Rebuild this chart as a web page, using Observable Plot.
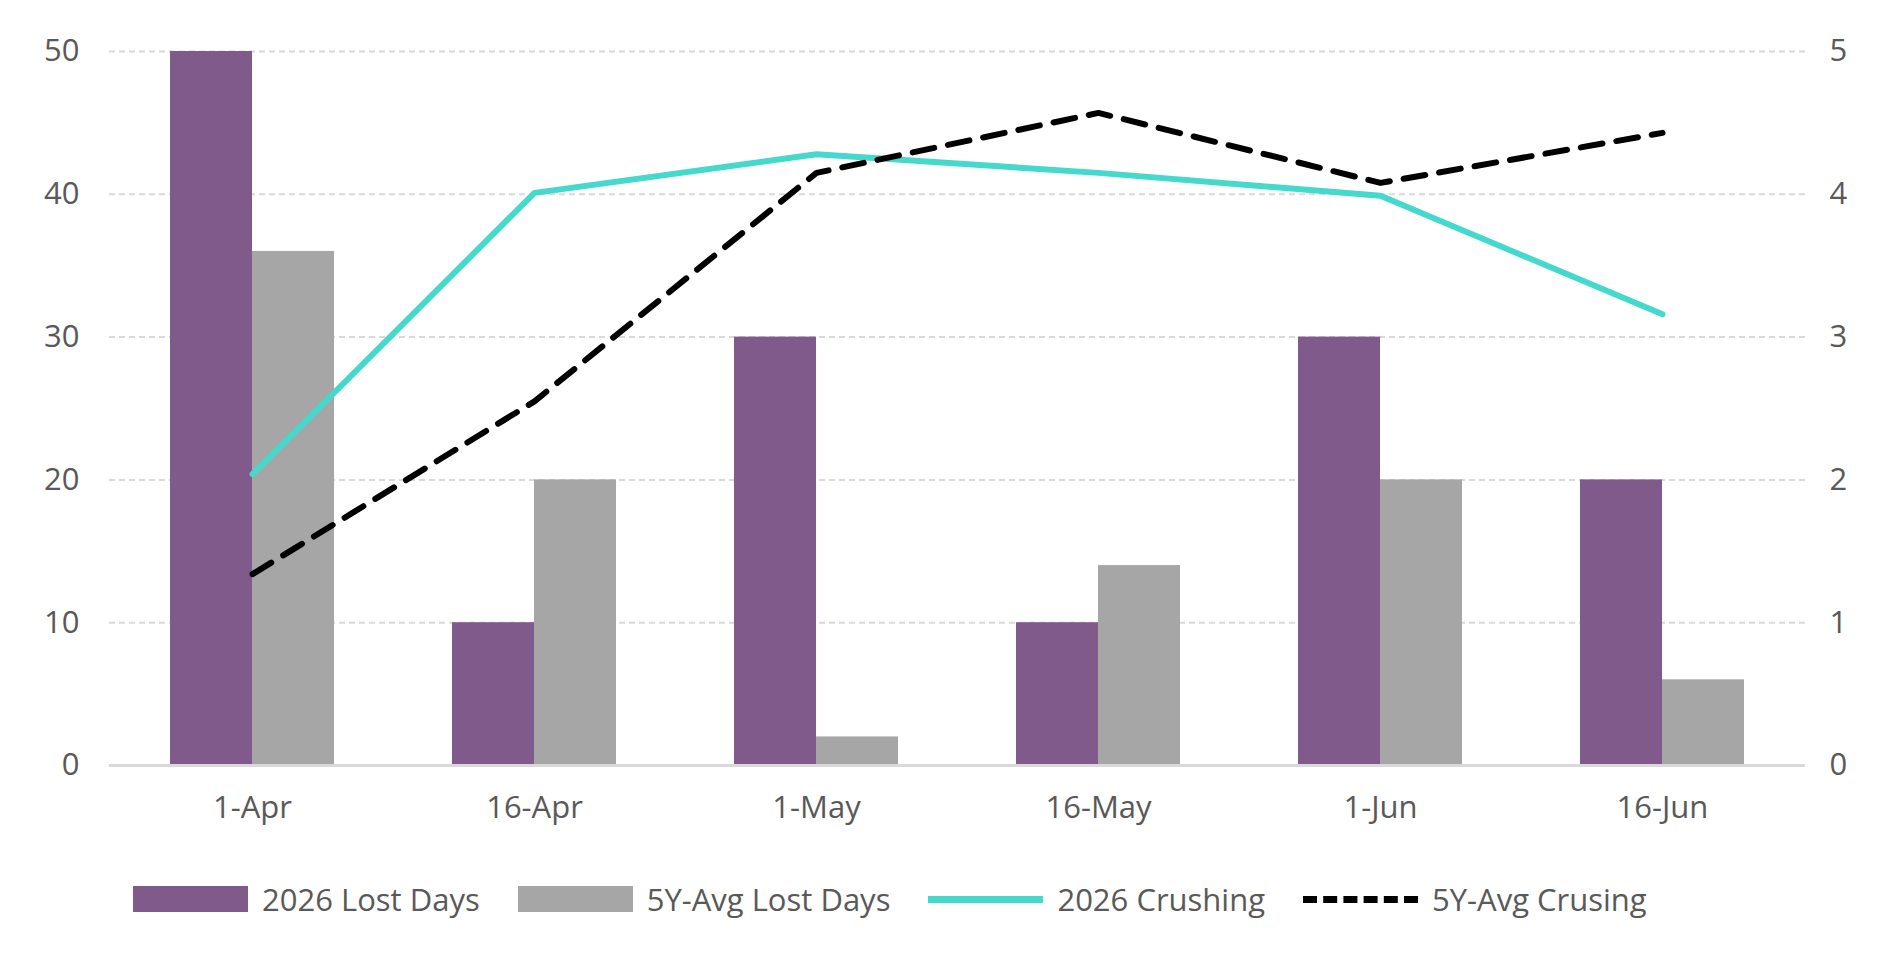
<!DOCTYPE html>
<html><head><meta charset="utf-8">
<script src="https://cdn.jsdelivr.net/npm/d3@7"></script>
<script src="https://cdn.jsdelivr.net/npm/@observablehq/plot@0.6"></script>
<style>
body{margin:0;background:#fff;font-family:"Open Sans",sans-serif;}
#legend{display:flex;align-items:center;margin-left:133px;margin-top:18px;font-size:31px;color:#595959;}
.it{display:flex;align-items:center;margin-right:38px;}
.sw{width:115px;height:26px;margin-right:14px;}
.ln{width:115px;height:0;margin-right:14px;}
</style></head><body>
<div id="chart"></div>
<div id="legend">
 <div class="it"><div class="sw" style="background:#7f5a8b"></div>2026 Lost Days</div>
 <div class="it"><div class="sw" style="background:#a6a6a6"></div>5Y-Avg Lost Days</div>
 <div class="it"><div class="ln" style="border-top:7px solid #44d9cc"></div>2026 Crushing</div>
 <div class="it"><div class="ln" style="border-top:7px dashed #000"></div>5Y-Avg Crusing</div>
</div>
<script>
const dates = ["1-Apr","16-Apr","1-May","16-May","1-Jun","16-Jun"];
const lost2026 = [50,10,30,10,30,20];
const lostAvg = [36,20,2,14,20,6];
const crush2026 = [2.04,4.01,4.28,4.15,3.99,3.16];
const crushAvg = [1.34,2.55,4.15,4.57,4.08,4.43];
const yTicks = [0,10,20,30,40,50];
const y2Ticks = [0,1,2,3,4,5];

const rows = dates.map((d,i)=>({d,a:lost2026[i],b:lostAvg[i],c:crush2026[i],e:crushAvg[i]}));
const W=1893, bw = 0.58*282.7/2;
const chart = Plot.plot({
  width:W, height:860,
  marginLeft:109, marginRight:88, marginTop:51, marginBottom:95,
  style:{fontFamily:"Open Sans, sans-serif", fontSize:"31px", color:"#595959", background:"#fff"},
  x:{domain:dates, paddingInner:0.42, paddingOuter:0.21, label:null},
  y:{domain:[0,50], label:null},
  marks:[
    Plot.ruleY(yTicks.filter(t=>t>0),{stroke:"#d9d9d9",strokeWidth:2,strokeDasharray:"6,4"}),
    Plot.barY(rows,{x:"d",y:"a",fill:"#7f5a8b",insetRight:bw,insetLeft:0}),
    Plot.barY(rows,{x:"d",y:"b",fill:"#a6a6a6",insetLeft:bw,insetRight:0}),
    Plot.ruleY([0],{stroke:"#d9d9d9",strokeWidth:3}),
    Plot.line(rows,{x:"d",y:r=>r.c*10,stroke:"#44d9cc",strokeWidth:6}),
    Plot.line(rows,{x:"d",y:r=>r.e*10,stroke:"#000",strokeWidth:6,strokeDasharray:"22,14"}),
    Plot.axisX({tickSize:0,tickPadding:30,label:null,fontSize:31}),
    Plot.axisY({ticks:yTicks,tickSize:0,tickPadding:30,label:null,anchor:"left",textAnchor:"end"}),
    Plot.axisY({ticks:y2Ticks.map(t=>t*10),tickFormat:t=>String(t/10),tickSize:0,tickPadding:24,label:null,anchor:"right"})
  ]
});
document.getElementById("chart").append(chart);
</script></body></html>
